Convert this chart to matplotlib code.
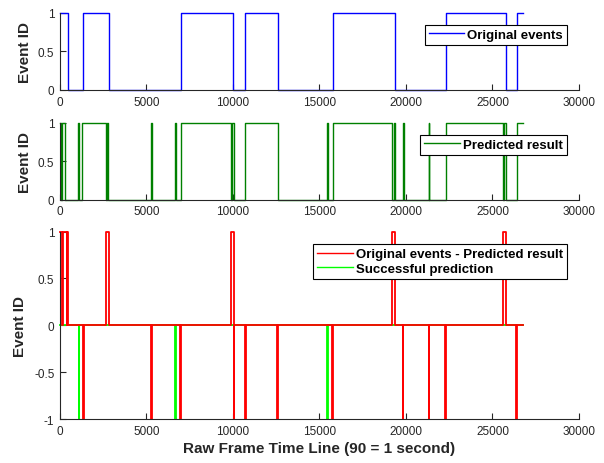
import numpy as np
import matplotlib
matplotlib.use('Agg')
import matplotlib.pyplot as plt
from matplotlib.lines import Line2D

plt.rcParams['font.family'] = ['Liberation Sans', 'DejaVu Sans']
plt.rcParams['axes.unicode_minus'] = False

# original events (step breakpoints, value holds until next x)
orig_x = [0, 470, 1350, 2830, 6990, 10020, 10710, 12580, 15800, 19360, 22330, 25800, 26400, 26780]
orig_y = [1, 0, 1, 0, 1, 0, 1, 0, 1, 0, 1, 0, 1, 1]

# predicted result
pred_x = [0, 60, 110, 290, 1030, 1090, 1300, 2640, 2690, 2800, 5280, 5320, 6670, 6710,
          6975, 9884, 9950, 10060, 10713, 12582, 15460, 15490, 15800, 19206, 19300, 19340,
          19830, 19890, 21320, 21350, 22293, 25624, 25690, 25790, 26398, 26782]
pred_y = [1, 0, 1, 0, 1, 0, 1, 0, 1, 0, 1, 0, 1, 0,
          1, 0, 1, 0, 1, 0, 1, 0, 1, 0, 1, 0,
          1, 0, 1, 0, 1, 0, 1, 0, 1, 1]

# original events - predicted result
diff_x = [0, 110, 160, 390, 430, 470, 1330, 1360, 2640, 2832, 5285, 5310, 6965, 6990,
          9884, 10030, 10045, 10070, 10700, 10725, 12570, 12595, 15730, 15755, 19206, 19364,
          19830, 19855, 21320, 21345, 22280, 22305, 25624, 25800, 26385, 26410, 26782]
diff_y = [1, 0, 1, 0, 1, 0, -1, 0, 1, 0, -1, 0, -1, 0,
          1, 0, -1, 0, -1, 0, -1, 0, -1, 0, 1, 0,
          -1, 0, -1, 0, -1, 0, 1, 0, -1, 0, 0]

# successful prediction
succ_x = [0, 1085, 1110, 6675, 6700, 15460, 15485, 26782]
succ_y = [0, -1, 0, -1, 0, -1, 0, 0]

xticks = [0, 5000, 10000, 15000, 20000, 25000, 30000]
axcol = (0.15, 0.15, 0.15)

fig = plt.figure(figsize=(6.04, 4.64), dpi=100)
ax1 = fig.add_axes([0.0993, 0.8039, 0.8593, 0.166])
ax2 = fig.add_axes([0.0993, 0.5675, 0.8593, 0.1653])
ax3 = fig.add_axes([0.0993, 0.0948, 0.8593, 0.404])


def style(ax, yticks, ylim, labx):
    ax.set_xlim(0, 30000)
    ax.set_ylim(*ylim)
    ax.set_xticks(xticks)
    ax.set_xticklabels([str(t) for t in xticks])
    ax.set_yticks(yticks)
    ax.set_yticklabels([('%g' % t) for t in yticks])
    for s in ['top', 'right']:
        ax.spines[s].set_visible(False)
    for s in ['left', 'bottom']:
        ax.spines[s].set_color(axcol)
        ax.spines[s].set_linewidth(0.8)
    ax.tick_params(direction='in', length=4, width=0.8, color=axcol,
                   labelcolor=axcol, labelsize=8.5, pad=4)
    ax.set_ylabel('Event ID', fontsize=11, fontweight='bold', color=axcol)
    ax.yaxis.set_label_coords(labx, 0.5)


def leg(ax, handles, labels, y):
    lg = ax.legend(handles, labels, loc='upper right', bbox_to_anchor=(0.977, y),
                   borderaxespad=0, fancybox=False, framealpha=1, edgecolor='black',
                   prop={'weight': 'bold', 'size': 9.5}, handlelength=2.7,
                   handletextpad=0.25, borderpad=0.3, labelspacing=0.2)
    lg.get_frame().set_linewidth(0.8)


l1, = ax1.plot(orig_x, orig_y, drawstyle='steps-post', color='blue', lw=1.0, clip_on=False)
style(ax1, [0, 0.5, 1], (0, 1), -0.054)
leg(ax1, [l1], ['Original events'], 0.848)

l2, = ax2.plot(pred_x, pred_y, drawstyle='steps-post', color=(0, 0.5, 0), lw=1.0, clip_on=False)
style(ax2, [0, 0.5, 1], (0, 1), -0.054)
leg(ax2, [l2], ['Predicted result'], 0.847)

ax3.plot(succ_x, succ_y, drawstyle='steps-post', color=(0, 1, 0), lw=1.3, clip_on=False)
ax3.plot(diff_x, diff_y, drawstyle='steps-post', color='red', lw=1.3, clip_on=False)
style(ax3, [-1, -0.5, 0, 0.5, 1], (-1, 1), -0.064)
ax3.set_xlabel('Raw Frame Time Line (90 = 1 second)', fontsize=11, fontweight='bold',
               color=axcol, labelpad=3)
h_red = Line2D([], [], color='red', lw=1.0)
h_grn = Line2D([], [], color=(0, 1, 0), lw=1.0)
leg(ax3, [h_red, h_grn], ['Original events - Predicted result', 'Successful prediction'], 0.934)

fig.savefig('out.png', dpi=100)
